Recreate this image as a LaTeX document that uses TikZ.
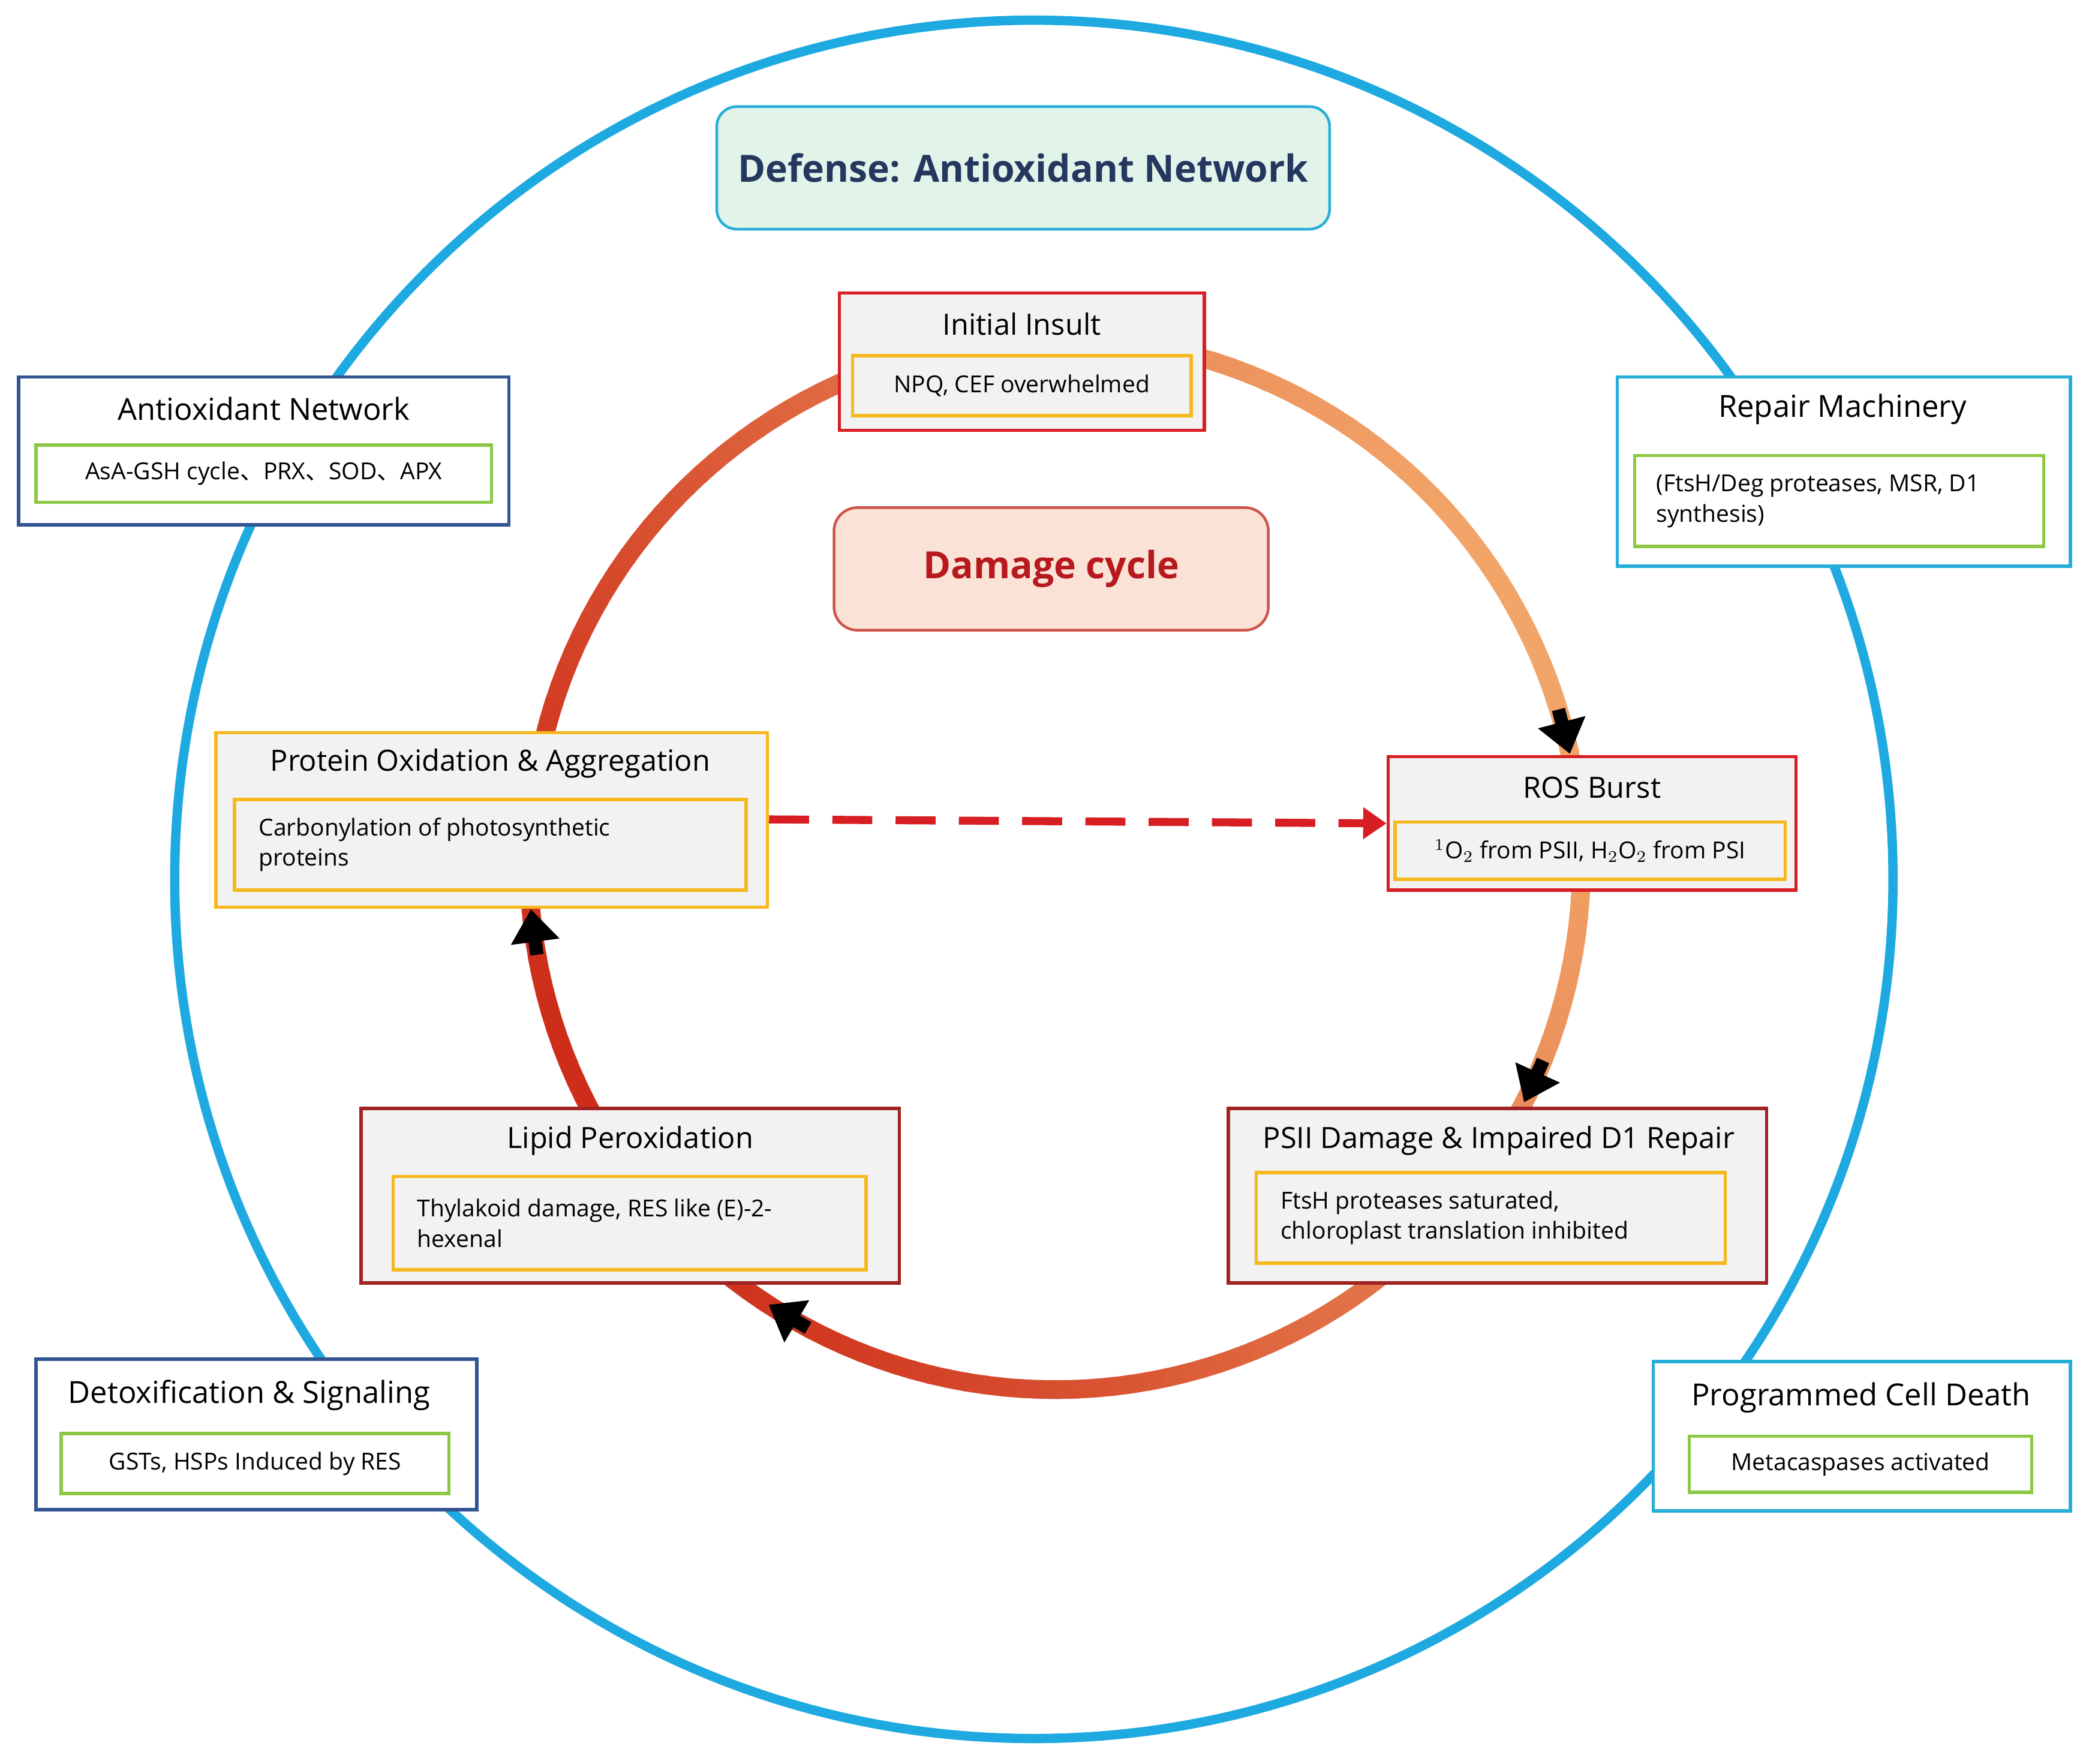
\documentclass[tikz,border=0pt]{standalone}
\usepackage{fontspec}
\setmainfont{Open Sans}
\newfontfamily\cjk{Noto Sans CJK SC}
\usetikzlibrary{arrows.meta,fit}
\definecolor{ringblue}{RGB}{30,170,225}
\definecolor{lightor}{RGB}{242,165,105}
\definecolor{darkred}{RGB}{205,45,25}
\definecolor{boxred}{RGB}{215,30,35}
\definecolor{boxdred}{RGB}{160,35,35}
\definecolor{boxyel}{RGB}{245,185,30}
\definecolor{boxgray}{RGB}{242,242,242}
\definecolor{navy}{RGB}{50,85,145}
\definecolor{cyanb}{RGB}{40,175,215}
\definecolor{greenb}{RGB}{140,200,70}
\definecolor{titlefill}{RGB}{226,243,234}
\definecolor{dmgfill}{RGB}{251,226,214}
\definecolor{dmgborder}{RGB}{205,85,75}
\definecolor{titletext}{RGB}{35,55,95}
\begin{document}
\begin{tikzpicture}[x=0.02cm,y=-0.02cm,
  outer/.style={fit={#1}, inner sep=0pt, line width=0.05cm},
  dbox/.style={fill=boxgray, draw},
  inner/.style={fit={#1}, inner sep=0pt, draw=boxyel, line width=0.05cm},
  ginner/.style={fit={#1}, inner sep=0pt, draw=greenb, line width=0.05cm},
  ttl/.style={font=\fontsize{12.5}{14}\selectfont},
  txt/.style={font=\fontsize{10}{13}\selectfont, align=left, anchor=west},
  cyc/.style={line width=0.2cm, -{Triangle[length=14pt,width=20pt]}}]
\useasboundingbox (0,0) rectangle (1568,1324);
% big ring
\node[circle, draw=ringblue, line width=0.14cm, minimum size=25.8cm, inner sep=0] (ring) at (776,660) {};
% damage cycle gradient ring
\foreach \a in {0,2,...,358}{
  \pgfmathsetmacro{\t}{50*(1-cos(\a-25))}
  \draw[line width=0.28cm, color=darkred!\t!lightor]
    ({792+395*cos(\a)},{648-395*sin(\a)}) arc[start angle=-\a, end angle=-\a-2.6, radius=395];
}
% cycle arrows
\coordinate (a1s) at ({792+395*cos(17)},{648-395*sin(17)});
\coordinate (a1e) at ({792+395*cos(12)},{648-395*sin(12)});
\coordinate (a2s) at ({792+395*cos(-22)},{648-395*sin(-22)});
\coordinate (a2e) at ({792+395*cos(-27)},{648-395*sin(-27)});
\coordinate (a3s) at ({792+395*cos(242)},{648-395*sin(242)});
\coordinate (a3e) at ({792+395*cos(237)},{648-395*sin(237)});
\coordinate (a4s) at ({792+395*cos(190)},{648-395*sin(190)});
\coordinate (a4e) at ({792+395*cos(185)},{648-395*sin(185)});
\draw[cyc] (a1s) -- (a1e);
\draw[cyc] (a2s) -- (a2e);
\draw[cyc] (a3s) -- (a3e);
\draw[cyc] (a4s) -- (a4e);
% title
\node[fit={(538,80)(998,172)}, inner sep=0, rounded corners=0.3cm, fill=titlefill, draw=cyanb, line width=0.04cm] (title) {};
\node[font=\fontsize{16}{18}\selectfont\bfseries, text=titletext] (titlet) at (title.center) {Defense: Antioxidant Network};
% damage cycle label
\node[fit={(626,381)(952,473)}, inner sep=0, rounded corners=0.35cm, fill=dmgfill, draw=dmgborder, line width=0.04cm] (dmg) {};
\node[font=\fontsize{16}{18}\selectfont\bfseries, text=boxred!85!black] (dmgt) at (dmg.center) {Damage cycle};
% Initial insult
\node[outer={(630,220)(904,323)}, dbox, draw=boxred] (ii) {};
\node[ttl] (iit) at (767,243) {Initial Insult};
\node[inner={(640,267)(894,312)}] (iii) {};
\node[font=\fontsize{10}{13}\selectfont] (iiit) at (iii.center) {NPQ, CEF overwhelmed};
% ROS burst
\node[outer={(1042,568)(1348,668)}, dbox, draw=boxred] (ros) {};
\node[ttl] (rost) at (1195,591) {ROS Burst};
\node[inner={(1047,617)(1340,660)}] (rosi) {};
\node[font=\fontsize{10}{13}\selectfont] (rosit) at (rosi.center) {$^1$O$_2$ from PSII, H$_2$O$_2$ from PSI};
% PSII
\node[outer={(922,832)(1326,963)}, dbox, draw=boxdred] (psii) {};
\node[ttl] (psiit) at (1125,856) {PSII Damage \& Impaired D1 Repair};
\node[inner={(943,880)(1295,948)}] (psiii) {};
\node[txt] (psiiit) at (955,914) {FtsH proteases saturated,\\chloroplast translation inhibited};
% Lipid
\node[outer={(271,832)(675,963)}, dbox, draw=boxdred] (lip) {};
\node[ttl] (lipt) at (473,856) {Lipid Peroxidation};
\node[inner={(295,883)(650,953)}] (lipi) {};
\node[txt] (lipit) at (307,918) {Thylakoid damage, RES like (E)-2-\\hexenal};
% Protein
\node[outer={(162,550)(576,681)}, dbox, draw=boxyel] (prot) {};
\node[ttl] (prott) at (368,573) {Protein Oxidation \& Aggregation};
\node[inner={(176,600)(560,668)}] (proti) {};
\node[txt] (protit) at (188,634) {Carbonylation of photosynthetic\\proteins};
% dashed
\draw[boxred, line width=0.12cm, dash pattern=on 0.6cm off 0.35cm, -{Triangle[length=10pt,width=13pt]}] (prot.east |- 0,615) -- (ros.west |- 0,618);
% defense boxes
\node[outer={(14,283)(382,394)}, fill=white, draw=navy] (ant) {};
\node[font=\fontsize{13}{15}\selectfont] (antt) at (198,307) {Antioxidant Network};
\node[ginner={(27,334)(369,377)}] (anti) {};
\node[font=\fontsize{10}{13}\selectfont] (antit) at (anti.center) {AsA-GSH cycle{\cjk 、}PRX{\cjk 、}SOD{\cjk 、}APX};
\node[outer={(1214,283)(1554,425)}, fill=white, draw=cyanb] (rep) {};
\node[font=\fontsize{13}{15}\selectfont] (rept) at (1383,307) {Repair Machinery};
\node[ginner={(1227,342)(1534,410)}] (repi) {};
\node[txt] (repit) at (1237,376) {(FtsH/Deg proteases, MSR, D1\\synthesis)};
\node[outer={(27,1020)(358,1133)}, fill=white, draw=navy] (det) {};
\node[font=\fontsize{13}{15}\selectfont] (dett) at (187,1047) {Detoxification \& Signaling};
\node[ginner={(46,1076)(337,1121)}] (deti) {};
\node[font=\fontsize{10}{13}\selectfont] (detit) at (deti.center) {GSTs, HSPs Induced by RES};
\node[outer={(1241,1022)(1554,1134)}, fill=white, draw=cyanb] (pcd) {};
\node[font=\fontsize{13}{15}\selectfont] (pcdt) at (1397,1049) {Programmed Cell Death};
\node[ginner={(1268,1078)(1525,1120)}] (pcdi) {};
\node[font=\fontsize{10}{13}\selectfont] (pcdit) at (pcdi.center) {Metacaspases activated};
\end{tikzpicture}
\end{document}
